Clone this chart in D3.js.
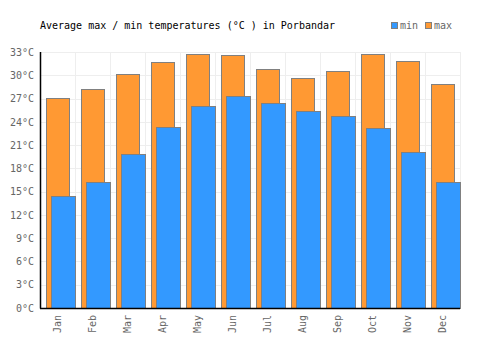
<!DOCTYPE html>
<html>
<head>
<meta charset="utf-8">
<script src="https://cdn.jsdelivr.net/npm/d3@7"></script>
<style>
  body { margin: 0; background: #fff; }
  svg text { font-family: "DejaVu Sans Mono", monospace; font-size: 10px; }
</style>
</head>
<body>
<svg id="chart" width="500" height="350"></svg>
<script>
// data
var months = ['Jan', 'Feb', 'Mar', 'Apr', 'May', 'Jun', 'Jul', 'Aug', 'Sep', 'Oct', 'Nov', 'Dec'];
var maxTemps = [27.1, 28.2, 30.2, 31.7, 32.7, 32.6, 30.8, 29.7, 30.6, 32.7, 31.9, 28.9];
var minTemps = [14.5, 16.2, 19.9, 23.3, 26.0, 27.3, 26.4, 25.4, 24.7, 23.2, 20.1, 16.3];
var yTicks = [0, 3, 6, 9, 12, 15, 18, 21, 24, 27, 30, 33];

var margins = { top: 52, left: 40, right: 40, bottom: 42 };
var svg = d3.select('#chart');
var width = +svg.attr('width');
var height = +svg.attr('height');
var plotW = width - margins.left - margins.right;
var plotH = height - margins.top - margins.bottom;

var x = d3.scaleBand().domain(months).range([0, plotW]);
var y = d3.scaleLinear().domain([0, 33]).range([plotH, 0]);
var bw = x.bandwidth();

var plot = svg.append('g')
  .attr('transform', 'translate(' + margins.left + ',' + margins.top + ')');

// grid
plot.append('g').attr('class', 'grid-y')
  .selectAll('line').data(yTicks).enter().append('line')
  .attr('x1', 0).attr('x2', plotW)
  .attr('y1', function (d) { return Math.round(y(d)) + 0.5; })
  .attr('y2', function (d) { return Math.round(y(d)) + 0.5; })
  .attr('stroke', '#eeeeee');

plot.append('g').attr('class', 'grid-x')
  .selectAll('line').data(d3.range(months.length + 1)).enter().append('line')
  .attr('x1', function (i) { return Math.round(i * bw) + 0.5; })
  .attr('x2', function (i) { return Math.round(i * bw) + 0.5; })
  .attr('y1', 0).attr('y2', plotH)
  .attr('stroke', '#eeeeee');

// max bars (behind)
plot.append('g').attr('class', 'bars max')
  .selectAll('rect').data(maxTemps).enter().append('rect')
  .attr('x', function (d, i) { return Math.round(x(months[i]) + bw * 0.17) + 0.5; })
  .attr('y', function (d) { return Math.round(y(d)) + 0.5; })
  .attr('width', Math.round(bw * 0.66))
  .attr('height', function (d) { return plotH - Math.round(y(d)); })
  .attr('fill', '#ff9933')
  .attr('stroke', '#808080');

// min bars (front)
plot.append('g').attr('class', 'bars min')
  .selectAll('rect').data(minTemps).enter().append('rect')
  .attr('x', function (d, i) { return Math.round(x(months[i]) + bw * 0.31) + 0.5; })
  .attr('y', function (d) { return Math.round(y(d)) + 0.5; })
  .attr('width', Math.round(bw * 0.69))
  .attr('height', function (d) { return plotH - Math.round(y(d)); })
  .attr('fill', '#3399ff')
  .attr('stroke', '#808080');

// axes
var yAxis = d3.axisLeft(y).tickValues(yTicks).tickSize(0).tickPadding(6)
  .tickFormat(function (d) { return d + '°C'; });
var gy = plot.append('g').attr('class', 'axis y').call(yAxis);
gy.select('.domain').remove();
gy.selectAll('text').attr('fill', '#666666');

var xAxis = d3.axisBottom(x).tickSize(0);
var gx = plot.append('g').attr('class', 'axis x')
  .attr('transform', 'translate(0,' + plotH + ')')
  .call(xAxis);
gx.select('.domain').remove();
gx.selectAll('text')
  .attr('fill', '#666666')
  .attr('transform', 'rotate(-90)')
  .attr('x', -7)
  .attr('y', 0)
  .attr('dy', '0.35em')
  .style('text-anchor', 'end');

plot.append('line')
  .attr('x1', 0.5).attr('x2', 0.5).attr('y1', 0).attr('y2', plotH + 0.5)
  .attr('stroke', '#000').attr('stroke-width', 1.5);
plot.append('line')
  .attr('x1', 0).attr('x2', plotW).attr('y1', plotH + 0.5).attr('y2', plotH + 0.5)
  .attr('stroke', '#000').attr('stroke-width', 1.5);

// title
svg.append('text')
  .attr('x', 40).attr('y', 29)
  .attr('fill', '#000')
  .text('Average max / min temperatures (°C ) in Porbandar');

// legend
var legend = svg.append('g').attr('class', 'legend');
var items = [{ name: 'min', color: '#3399ff', x: 391 }, { name: 'max', color: '#ff9933', x: 425 }];
var li = legend.selectAll('g').data(items).enter().append('g')
  .attr('transform', function (d) { return 'translate(' + d.x + ',22)'; });
li.append('rect')
  .attr('x', 0.5).attr('y', 0.5).attr('width', 6).attr('height', 6)
  .attr('fill', function (d) { return d.color; })
  .attr('stroke', '#808080');
li.append('text')
  .attr('x', 9).attr('y', 7)
  .attr('fill', '#666666')
  .text(function (d) { return d.name; });
</script>
</body>
</html>
